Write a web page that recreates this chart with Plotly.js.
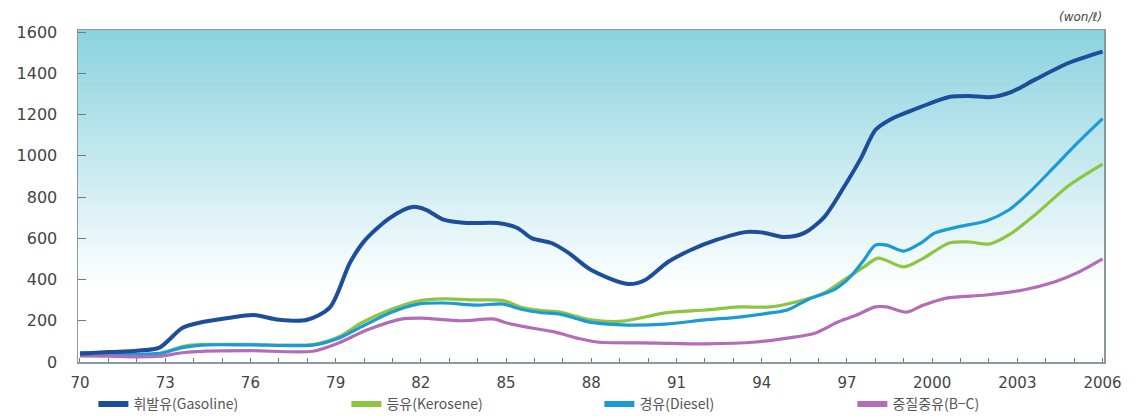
<!DOCTYPE html>
<html>
<head>
<meta charset="utf-8">
<script src="https://cdn.plot.ly/plotly-3.0.1.min.js"></script>
<style>html,body{margin:0;padding:0;background:#fff;}#chart{width:1136px;height:416px;}</style>
</head>
<body>
<div id="chart"></div>
<script>
// Data (won per litre)
var gasolineYears = [1970,1971,1972,1972.8,1973.6,1974.2,1975.2,1976.1,1977.0,1978.0,1978.8,1979.5,1980.0,1980.9,1981.7,1982.2,1982.8,1983.6,1984.7,1985.4,1985.9,1986.6,1987.2,1988.0,1989.3,1989.9,1990.7,1991.5,1992.4,1993.5,1994.1,1994.8,1995.5,1996.2,1996.9,1997.5,1998.0,1998.5,1999.6,2000.6,2001.3,2002.1,2002.8,2003.6,2004.8,2006];
var gasolineValues = [40,48,55,70,165,190,213,228,205,205,265,480,585,698,752,737,690,674,674,650,601,577,529,446,378,398,485,543,592,631,626,606,626,703,850,990,1125,1174,1237,1285,1290,1285,1310,1368,1450,1505];

var keroseneYears = [1970,1971,1972,1972.8,1973.6,1974.3,1976,1978.2,1979.1,1979.9,1980.9,1981.9,1982.8,1984.0,1984.9,1985.5,1986.2,1986.9,1987.5,1988.0,1989.1,1990.6,1992.0,1993.2,1994.3,1995.2,1996.2,1996.9,1997.6,1998.1,1999.0,1999.7,2000.6,2001.3,2002.0,2002.7,2003.7,2004.8,2006];
var keroseneValues = [42,40,35,40,75,85,85,85,121,189,252,296,306,301,298,267,250,242,220,204,198,238,252,267,267,291,335,398,461,504,461,504,577,582,572,616,723,855,960];

var dieselYears = [1970,1971,1972,1972.8,1973.6,1974.3,1976,1978.2,1979.1,1979.9,1980.9,1981.9,1982.8,1984.0,1984.9,1985.5,1986.2,1986.9,1987.5,1988.0,1989.1,1990.6,1992.0,1993.2,1994.3,1994.9,1995.6,1996.6,1997.1,1997.6,1998.0,1998.4,1999.0,1999.6,2000.1,2000.9,2001.9,2002.7,2003.4,2004.3,2005.1,2006];
var dieselValues = [45,42,38,42,70,82,83,82,115,170,238,281,286,276,281,257,240,232,210,192,180,184,204,218,238,252,301,355,410,495,567,567,538,577,626,655,684,737,820,946,1060,1180];

var bcYears = [1970,1971,1972,1972.8,1973.6,1974.3,1976,1978.2,1979.1,1980.1,1981.3,1982.0,1983.4,1984.6,1985.0,1985.9,1986.7,1987.5,1988.2,1990.3,1992.0,1993.8,1994.9,1995.9,1996.7,1997.3,1998.0,1998.4,1999.1,1999.7,2000.5,2001.9,2003.2,2004.3,2005.1,2006];
var bcValues = [30,28,25,28,45,52,55,52,92,155,208,213,200,208,190,165,146,116,97,92,88,97,116,141,195,225,267,267,242,276,310,325,349,388,432,500];

var seriesNames = ['휘발유(Gasoline)','등유(Kerosene)','경유(Diesel)','중질중유(B−C)'];
var seriesColors = ['#1d4e9a', '#8cc540', '#1c9ad6', '#b46cb9'];
var tickYears = [];
for (var yr = 1970; yr <= 2006; yr++) tickYears.push(yr);
var labelYears = {1970:'70',1973:'73',1976:'76',1979:'79',1982:'82',1985:'85',1988:'88',1991:'91',1994:'94',1997:'97',2000:'2000',2003:'2003',2006:'2006'};
var tickText = tickYears.map(function(y){ return labelYears[y] || ''; });
var yTicks = [0,200,400,600,800,1000,1200,1400,1600];
var unitLabel = '(won/ℓ)';

function line(x, y, idx, w) {
  return {x: x, y: y, name: seriesNames[idx], type: 'scatter', mode: 'lines', showlegend: false,
    line: {color: seriesColors[idx], width: w, shape: 'spline', smoothing: 0.8}, hoverinfo: 'skip'};
}
// legend-only keys (thicker swatches like the original)
function key(idx) {
  return {x: [null], y: [null], name: seriesNames[idx], type: 'scatter', mode: 'lines',
    line: {color: seriesColors[idx], width: 6}, hoverinfo: 'skip', legendrank: idx + 1};
}

var traces = [
  line(keroseneYears, keroseneValues, 1, 3.2),
  line(dieselYears, dieselValues, 2, 3.2),
  line(bcYears, bcValues, 3, 3.2),
  line(gasolineYears, gasolineValues, 0, 4),
  key(0), key(1), key(2), key(3)
];

// gradient background via stacked strips
var shapes = [];
var N = 80, gStart = 0.22, topColor = [138, 210, 223];
for (var i = 0; i < N; i++) {
  var a = gStart + (1 - gStart) * i / N, b = gStart + (1 - gStart) * (i + 1) / N;
  var f = (i + 0.5) / N;
  var r = Math.round(255 + (topColor[0] - 255) * f), g = Math.round(255 + (topColor[1] - 255) * f), bl = Math.round(255 + (topColor[2] - 255) * f);
  shapes.push({type: 'rect', xref: 'x domain', yref: 'y domain', x0: 0, x1: 1, y0: a, y1: Math.min(1, b + 0.002),
    fillcolor: 'rgb(' + r + ',' + g + ',' + bl + ')', line: {width: 0}, layer: 'below'});
}

var layout = {
  width: 1136, height: 416,
  margin: {l: 78, r: 32, t: 30, b: 54},
  paper_bgcolor: '#ffffff', plot_bgcolor: 'rgba(0,0,0,0)',
  showlegend: true,
  legend: {orientation: 'h', xref: 'paper', yref: 'container', x: 0.015, xanchor: 'left', y: 0.028, yanchor: 'middle',
    bgcolor: 'rgba(0,0,0,0)',
    font: {family: '"Noto Sans CJK KR", "DejaVu Sans", sans-serif', size: 14, color: '#555'},
    entrywidth: 208, entrywidthmode: 'pixels', traceorder: 'normal'},
  xaxis: {range: [1969.93, 2006.05], tickmode: 'array', tickvals: tickYears, ticktext: tickText,
    ticks: 'inside', ticklen: 4, tickcolor: '#777', tickwidth: 1,
    showline: true, linecolor: '#8a9aa0', linewidth: 1.5, mirror: true, showgrid: false, zeroline: false,
    tickfont: {family: '"DejaVu Sans", sans-serif', size: 15, color: '#444'}, ticklabelstandoff: 6},
  yaxis: {range: [0, 1610], tickmode: 'array', tickvals: yTicks,
    ticks: 'inside', ticklen: 8, tickcolor: '#777', tickwidth: 1,
    showline: true, linecolor: '#8a9aa0', linewidth: 1.5, mirror: true, showgrid: false, zeroline: false,
    tickfont: {family: '"DejaVu Sans", sans-serif', size: 16, color: '#444'}, ticklabelstandoff: 16},
  shapes: shapes,
  annotations: [{text: unitLabel, xref: 'paper', yref: 'paper', x: 1.0, y: 1.0, xanchor: 'right', yanchor: 'bottom',
    yshift: 4, showarrow: false, font: {family: '"DejaVu Sans", sans-serif', size: 12, color: '#444', style: 'italic'}}]
};

Plotly.newPlot('chart', traces, layout, {displayModeBar: false, staticPlot: true});
</script>
</body>
</html>
